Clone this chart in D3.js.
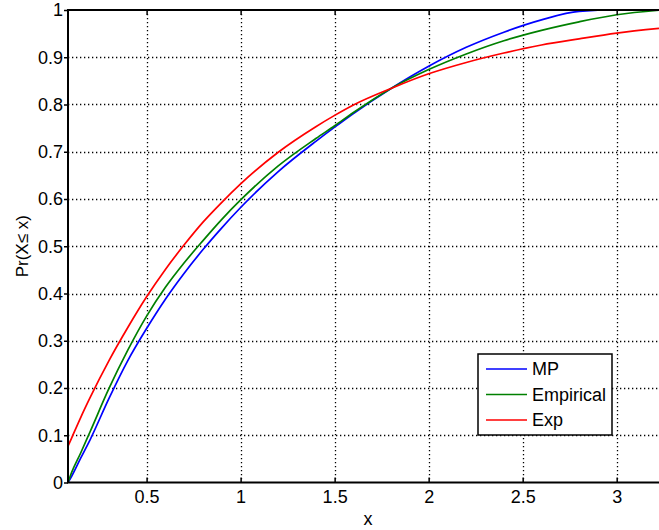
<!DOCTYPE html>
<html>
<head>
<meta charset="utf-8">
<script src="https://cdn.jsdelivr.net/npm/d3@7/dist/d3.min.js"></script>
<style>
  body { margin: 0; background: #fff; }
  svg { display: block; font-family: "Liberation Sans", Arial, Helvetica, sans-serif; }
</style>
</head>
<body>
<svg id="chart" width="659" height="530"></svg>
<script>
// values
var xValues = [0.082, 0.1, 0.15, 0.2, 0.3, 0.4, 0.5, 0.6, 0.7, 0.8, 0.9, 1.0, 1.2, 1.4, 1.5, 1.6, 1.8, 2.0, 2.2, 2.4, 2.6, 2.8, 3.0, 3.225]
var mpValues = [0, 0.012, 0.052, 0.091, 0.178, 0.258, 0.326, 0.388, 0.443, 0.493, 0.539, 0.582, 0.658, 0.722, 0.752, 0.781, 0.834, 0.881, 0.921, 0.953, 0.979, 0.997, 1.0, 1.0]
var empiricalValues = [0, 0.02, 0.063, 0.108, 0.199, 0.28, 0.352, 0.413, 0.465, 0.512, 0.557, 0.598, 0.67, 0.728, 0.755, 0.783, 0.834, 0.874, 0.907, 0.935, 0.957, 0.975, 0.99, 0.9995]
var expValues = [0.077, 0.093, 0.138, 0.18, 0.258, 0.328, 0.393, 0.451, 0.503, 0.551, 0.593, 0.632, 0.699, 0.753, 0.777, 0.799, 0.834, 0.865, 0.889, 0.909, 0.926, 0.939, 0.951, 0.961]

var seriesNames = ["MP", "Empirical", "Exp"]
var seriesColors = ["#0000ff", "#008000", "#ff0000"]
var seriesValues = [mpValues, empiricalValues, expValues]

var xTicks = [0.5, 1, 1.5, 2, 2.5, 3]
var yTicks = [0, 0.1, 0.2, 0.3, 0.4, 0.5, 0.6, 0.7, 0.8, 0.9, 1]

var plotLeft = 68, plotTop = 10, plotRight = 659, plotBottom = 482.5

var svg = d3.select("#chart")

var x = d3.scaleLinear().domain([0.082, 3.225]).range([plotLeft, plotRight])
var y = d3.scaleLinear().domain([0, 1]).range([plotBottom, plotTop])

// dotted grid
var grid = svg.append("g").attr("stroke", "#000").attr("stroke-width", 1.3).attr("stroke-dasharray", "1.3,2.7")
grid.selectAll(".vgrid").data(xTicks).enter().append("line")
    .attr("x1", function (d) { return Math.round(x(d)) + 0.5 })
    .attr("x2", function (d) { return Math.round(x(d)) + 0.5 })
    .attr("y1", plotTop).attr("y2", plotBottom)
grid.selectAll(".hgrid").data(yTicks.slice(1, -1)).enter().append("line")
    .attr("x1", plotLeft).attr("x2", plotRight)
    .attr("y1", function (d) { return Math.round(y(d)) + 0.5 })
    .attr("y2", function (d) { return Math.round(y(d)) + 0.5 })

// curves
var line = d3.line().curve(d3.curveMonotoneX)
    .x(function (d) { return x(d[0]) })
    .y(function (d) { return y(d[1]) })

seriesValues.forEach(function (values, i) {
    svg.append("path")
        .datum(xValues.map(function (xv, j) { return [xv, values[j]] }))
        .attr("fill", "none")
        .attr("stroke", seriesColors[i])
        .attr("stroke-width", 1.7)
        .attr("d", line)
})

// axes
function styleAxis(g) {
    g.select(".domain").remove()
    g.selectAll("line").attr("stroke", "#000").attr("stroke-width", 1.5)
    g.selectAll("text").attr("font-size", 18).attr("fill", "#000")
        .attr("font-family", "'Liberation Sans', Arial, Helvetica, sans-serif")
}

svg.append("g")
    .attr("transform", "translate(0," + plotBottom + ")")
    .call(d3.axisBottom(x).tickValues(xTicks).tickSize(-5).tickPadding(8).tickFormat(d3.format("")))
    .call(styleAxis)

svg.append("g")
    .attr("transform", "translate(0," + plotTop + ")")
    .call(d3.axisTop(x).tickValues(xTicks).tickSize(-5).tickFormat(""))
    .call(styleAxis)

svg.append("g")
    .attr("transform", "translate(" + plotLeft + ",0)")
    .call(d3.axisLeft(y).tickValues(yTicks).tickSize(4).tickPadding(1).tickFormat(d3.format("")))
    .call(styleAxis)

// axis frame (left, bottom, top)
svg.append("path")
    .attr("d", "M" + plotRight + "," + plotTop + "H" + plotLeft + "V" + plotBottom + "H" + plotRight)
    .attr("fill", "none").attr("stroke", "#000").attr("stroke-width", 2)

// axis titles
svg.append("text")
    .attr("x", 368).attr("y", 525)
    .attr("text-anchor", "middle").attr("font-size", 18)
    .text("x")

svg.append("text")
    .attr("transform", "translate(28," + ((plotTop + plotBottom) / 2) + ") rotate(-90)")
    .attr("text-anchor", "middle").attr("font-size", 17)
    .text("Pr(X\u2264 x)")

// legend
var legend = svg.append("g")
legend.append("rect")
    .attr("x", 478).attr("y", 354).attr("width", 134).attr("height", 81)
    .attr("fill", "#fff").attr("stroke", "#000").attr("stroke-width", 1.5)

seriesNames.forEach(function (name, i) {
    var ly = 369 + i * 25.5
    legend.append("line")
        .attr("x1", 486).attr("x2", 527).attr("y1", ly).attr("y2", ly)
        .attr("stroke", seriesColors[i]).attr("stroke-width", 1.7)
    legend.append("text")
        .attr("x", 532).attr("y", ly).attr("dy", "0.36em")
        .attr("font-size", 18)
        .text(name)
})
</script>
</body>
</html>
